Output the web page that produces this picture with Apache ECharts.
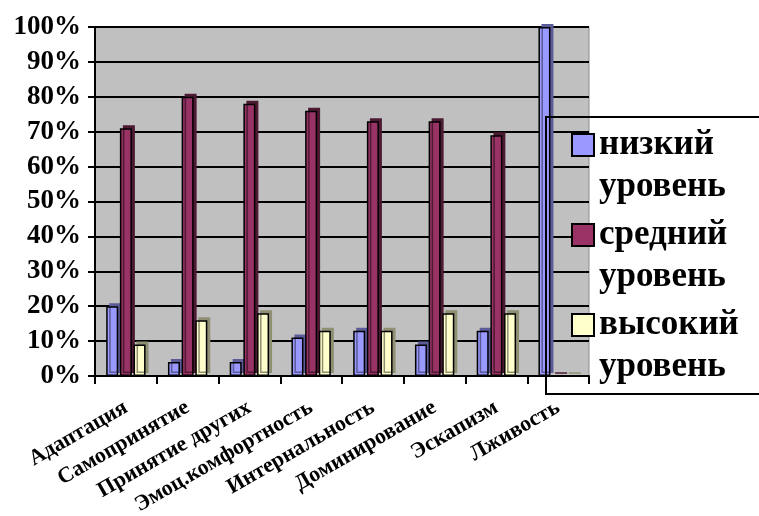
<!DOCTYPE html>
<html>
<head>
<meta charset="UTF-8">
<script src="https://cdn.jsdelivr.net/npm/echarts@6/dist/echarts.min.js"></script>
</head>
<body style="margin:0">
<div id="main" style="width:759px;height:516px"></div>
<script>
// scales (x axis)
const categories = [
  "Адаптация",
  "Самопринятие",
  "Принятие других",
  "Эмоц.комфортность",
  "Интернальность",
  "Доминирование",
  "Эскапизм",
  "Лживость",
];

// percentages per level
const lowLevel = [20, 4, 4, 11, 13, 9, 13, 100];
const midLevel = [71, 80, 78, 76, 73, 73, 69, 0];
const highLevel = [9, 16, 18, 13, 13, 18, 18, 0];

const yTicks = [0, 10, 20, 30, 40, 50, 60, 70, 80, 90, 100];

const FONT = "Liberation Serif";

const chart = echarts.init(document.getElementById("main"));

// one series; a hard offset shadow stands in for the 3D side of the bars
function bar(name, data, color, side) {
  return {
    name: name,
    type: "bar",
    data: data,
    barWidth: 12,
    barGap: "14%",
    itemStyle: {
      color: color,
      borderColor: "#000",
      borderWidth: 1.5,
      shadowColor: side,
      shadowBlur: 0,
      shadowOffsetX: 3,
      shadowOffsetY: -3,
    },
  };
}

chart.setOption({
  grid: {
    left: 95,
    right: 170,
    top: 27,
    bottom: 140,
    outerBoundsMode: "none",
    show: true,
    backgroundColor: "#c0c0c0",
    borderColor: "#8c8c8c",
    borderWidth: 1,
  },
  legend: {
    left: 546,
    top: 117,
    orient: "vertical",
    selectedMode: false,
    padding: [7, 60, 6, 25],
    itemGap: 6,
    itemWidth: 22,
    itemHeight: 64,
    // square at the top of a taller box so it sits beside the first text line
    icon: "path://M0,0H22V22H0Z M22,64",
    borderColor: "#000",
    borderWidth: 2,
    itemStyle: {
      borderColor: "#000",
      borderWidth: 2,
      shadowColor: "transparent",
      shadowOffsetX: 0,
      shadowOffsetY: 0,
    },
    formatter: (name) => name.replace(" ", "\n"),
    textStyle: {
      fontFamily: FONT,
      fontWeight: "bold",
      fontSize: 35,
      lineHeight: 42,
      color: "#000",
    },
  },
  xAxis: {
    type: "category",
    data: categories,
    axisLine: { lineStyle: { color: "#000", width: 2 } },
    axisTick: { show: true, interval: 0, length: 8, lineStyle: { color: "#000", width: 2 } },
    axisLabel: {
      interval: 0,
      rotate: 30,
      margin: 30,
      fontFamily: FONT,
      fontWeight: "bold",
      fontSize: 22,
      color: "#000",
    },
  },
  yAxis: {
    type: "value",
    min: 0,
    max: 100,
    interval: 10,
    axisLine: { show: true, lineStyle: { color: "#000", width: 2 } },
    axisTick: { show: true, length: 7, lineStyle: { color: "#000", width: 2 } },
    splitLine: { lineStyle: { color: "#000", width: 2 } },
    axisLabel: {
      margin: 14,
      fontFamily: FONT,
      fontWeight: "bold",
      fontSize: 27,
      color: "#000",
      formatter: (v) => (yTicks.includes(v) ? v + "%" : ""),
    },
  },
  series: [
    bar("низкий уровень", lowLevel, "#9999ff", "#5c5c99"),
    bar("средний уровень", midLevel, "#993366", "#4d1a33"),
    bar("высокий уровень", highLevel, "#ffffcc", "#8f8f73"),
  ],
});
</script>
</body>
</html>
